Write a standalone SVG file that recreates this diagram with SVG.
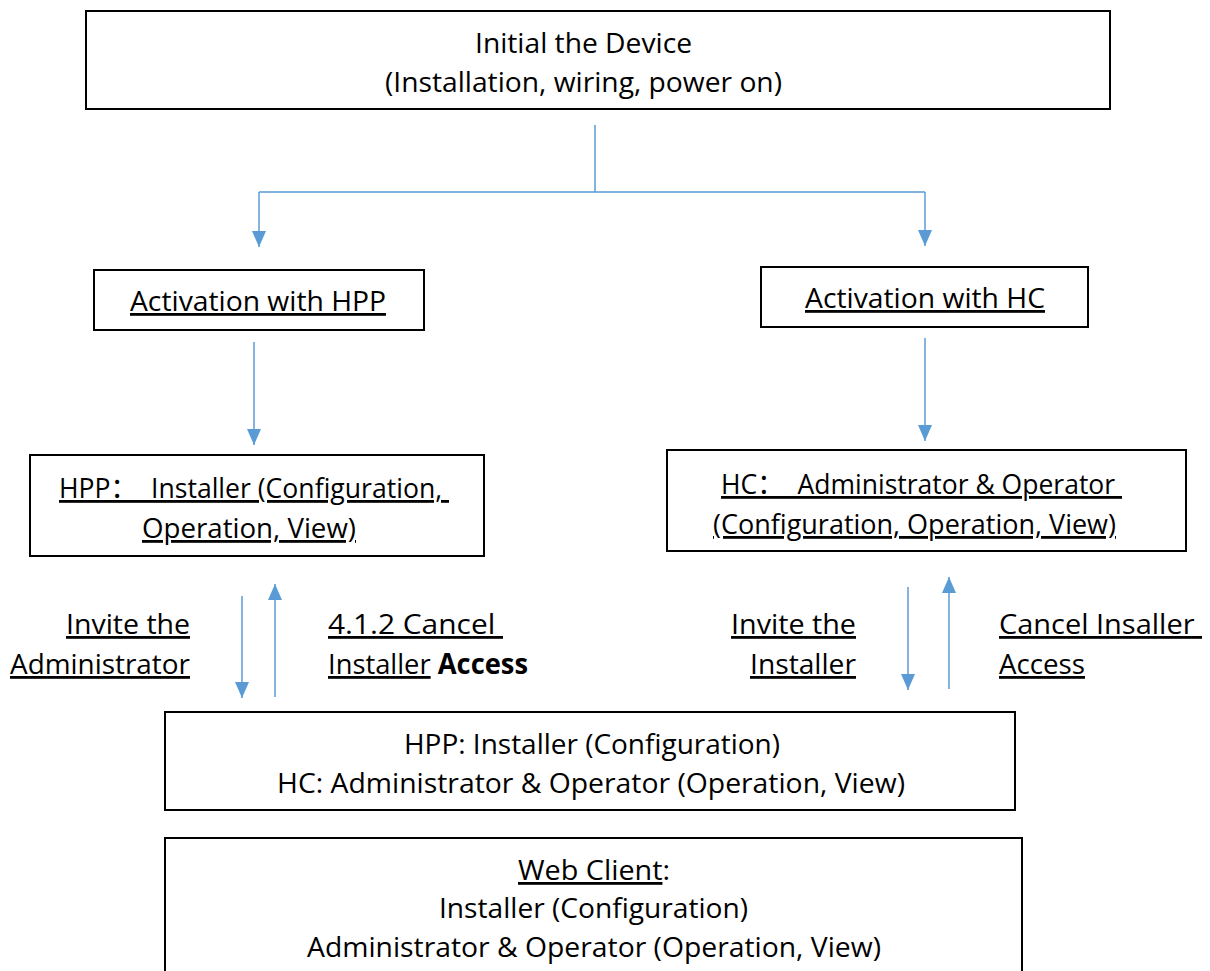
<svg xmlns="http://www.w3.org/2000/svg" width="1210" height="971" viewBox="0 0 1210 971">
<defs>
<marker id="ah" viewBox="0 0 16 14" refX="16" refY="7" markerWidth="16" markerHeight="14" markerUnits="userSpaceOnUse" orient="auto">
<path d="M0,0 L16,7 L0,14 z" fill="#5B9BD5"/>
</marker>
<style>
.box{fill:#fff;stroke:#000;stroke-width:2}
.t{font-family:"Open Sans","Liberation Sans","Noto Sans CJK SC",sans-serif;font-size:28px;fill:#000;white-space:pre}
.u{text-decoration:underline;text-decoration-thickness:2px;text-decoration-skip-ink:none}
.b{font-weight:bold}
.c{fill:none;stroke:#5B9BD5;stroke-width:1.5}
.a{marker-end:url(#ah)}
</style>
</defs>
<rect width="1210" height="971" fill="#fff"/>
<g id="connectors">
<path class="c" d="M595,125 V192 M259,192 H925"/>
<path class="c a" d="M259,192 V247"/>
<path class="c a" d="M925,192 V246"/>
<path class="c a" d="M254,342 V445"/>
<path class="c a" d="M925,338 V441"/>
<path class="c a" d="M242,596 V698"/>
<path class="c a" d="M275,697 V584"/>
<path class="c a" d="M908,587 V690"/>
<path class="c a" d="M949,689 V577"/>
</g>
<g id="node-init">
<rect class="box" x="86" y="11" width="1024" height="98"/>
<text class="t" x="475" y="53" textLength="217" lengthAdjust="spacingAndGlyphs">Initial the Device</text>
<text class="t" x="385" y="92" textLength="397" lengthAdjust="spacingAndGlyphs">(Installation, wiring, power on)</text>
</g>
<g id="node-act-hpp">
<rect class="box" x="94" y="270" width="330" height="60"/>
<text class="t u" x="130" y="311" textLength="256" lengthAdjust="spacingAndGlyphs">Activation with HPP</text>
</g>
<g id="node-act-hc">
<rect class="box" x="761" y="267" width="327" height="60"/>
<text class="t u" x="805" y="308" textLength="240" lengthAdjust="spacingAndGlyphs">Activation with HC</text>
</g>
<g id="node-hpp">
<rect class="box" x="30" y="455" width="454" height="101"/>
<text class="t u" x="59" y="498" textLength="390" lengthAdjust="spacingAndGlyphs">HPP：  Installer (Configuration, </text>
<text class="t u" x="142" y="538" textLength="214" lengthAdjust="spacingAndGlyphs">Operation, View)</text>
</g>
<g id="node-hc">
<rect class="box" x="667" y="450" width="519" height="101"/>
<text class="t u" x="721" y="494" textLength="401" lengthAdjust="spacingAndGlyphs">HC：  Administrator &amp; Operator </text>
<text class="t u" x="713" y="534" textLength="403" lengthAdjust="spacingAndGlyphs">(Configuration, Operation, View)</text>
</g>
<g id="labels">
<text class="t u" x="66" y="634" textLength="124" lengthAdjust="spacingAndGlyphs">Invite the</text>
<text class="t u" x="10" y="674" textLength="180" lengthAdjust="spacingAndGlyphs">Administrator</text>
<text class="t u" x="328" y="634" textLength="175" lengthAdjust="spacingAndGlyphs">4.1.2 Cancel </text>
<text class="t" x="328" y="674" textLength="200" lengthAdjust="spacingAndGlyphs"><tspan class="u">Installer</tspan> <tspan class="b">Access</tspan></text>
<text class="t u" x="731" y="634" textLength="125" lengthAdjust="spacingAndGlyphs">Invite the</text>
<text class="t u" x="750" y="674" textLength="106" lengthAdjust="spacingAndGlyphs">Installer</text>
<text class="t u" x="999" y="634" textLength="203" lengthAdjust="spacingAndGlyphs">Cancel Insaller </text>
<text class="t u" x="999" y="674" textLength="86" lengthAdjust="spacingAndGlyphs">Access</text>
</g>
<g id="node-combined">
<rect class="box" x="165" y="712" width="850" height="98"/>
<text class="t" x="404" y="754" textLength="376" lengthAdjust="spacingAndGlyphs">HPP: Installer (Configuration)</text>
<text class="t" x="277" y="793" textLength="628" lengthAdjust="spacingAndGlyphs">HC: Administrator &amp; Operator (Operation, View)</text>
</g>
<g id="node-web">
<rect class="box" x="165" y="838" width="857" height="140"/>
<text class="t" x="518" y="880" textLength="152" lengthAdjust="spacingAndGlyphs"><tspan class="u">Web Client</tspan>:</text>
<text class="t" x="439" y="918" textLength="309" lengthAdjust="spacingAndGlyphs">Installer (Configuration)</text>
<text class="t" x="307" y="957" textLength="574" lengthAdjust="spacingAndGlyphs">Administrator &amp; Operator (Operation, View)</text>
</g>
</svg>
